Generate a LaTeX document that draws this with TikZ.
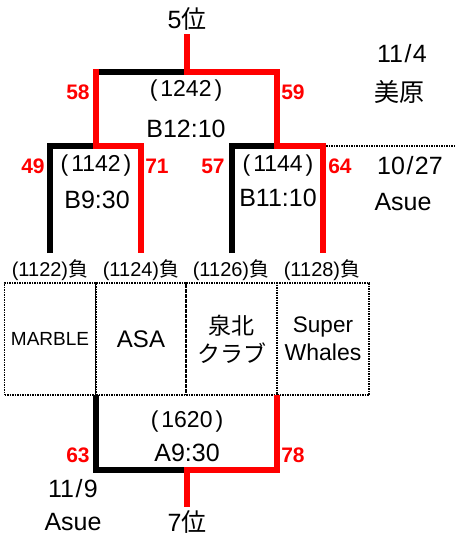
\documentclass[tikz,border=0pt]{standalone}
\usepackage{fontspec}
\setmainfont{Liberation Sans}
\newfontfamily\jp{Noto Sans CJK JP}
\newcommand{\pnum}[1]{(\kern3pt#1\kern3pt)}
\newcommand{\sls}{\kern1.5pt/\kern1.5pt}
\begin{document}
\begin{tikzpicture}[x=1pt,y=-1pt,
  wl/.style={line width=6.5pt, line join=miter, line cap=butt},
  rd/.style={wl, draw=red},
  bk/.style={wl, draw=black},
  sc/.style={text=red, font=\bfseries\fontsize{21}{23}\selectfont, inner sep=0pt},
  tx/.style={font=\fontsize{25}{28}\selectfont, inner sep=0pt},
  mt/.style={font=\fontsize{23}{26}\selectfont, inner sep=0pt},
  lose/.style={font=\fontsize{20}{22}\selectfont, inner sep=0pt},
  team/.style={draw, line width=1.8pt, dash pattern=on 1.5pt off 1pt, minimum width=91pt, minimum height=112pt, inner sep=0pt, align=center, font=\fontsize{23}{28}\selectfont},
  dot/.style={line width=1.8pt, dash pattern=on 1.5pt off 1pt}
]
\useasboundingbox (0,0) rectangle (455,539);
% team boxes
\node[team] (t1) at (50,339) {\fontsize{19}{22}\selectfont MARBLE};
\node[team, minimum width=90pt] (t2) at (141,339) {\fontsize{24}{28}\selectfont ASA};
\node[team, minimum width=91pt] (t3) at (231.5,339) {\jp 泉北\\\jp クラブ};
\node[team, minimum width=92pt] (t4) at (323,339) {\fontsize{22.5}{28}\selectfont Super\\Whales};
% loser labels
\node[lose] (l1) at (50,270) {(1122)\jp 負};
\node[lose] (l2) at (141,270) {(1124)\jp 負};
\node[lose] (l3) at (231,270) {(1126)\jp 負};
\node[lose] (l4) at (322,270) {(1128)\jp 負};
% bracket coordinates
\coordinate (top) at (187,34);
\coordinate (tj) at (187,72);
\coordinate (tl) at (96,72);
\coordinate (tl0) at (96,68.75);
\coordinate (tr) at (277,72);
\coordinate (ljl) at (50,146);
\coordinate (ljm) at (96,146);
\coordinate (ljr) at (141,146);
\coordinate (rjl) at (232,146);
\coordinate (rjm) at (277,146);
\coordinate (rjr) at (323,146);
\coordinate (e1) at (50,253);
\coordinate (e2) at (141,253);
\coordinate (e3) at (232,253);
\coordinate (e4) at (323,253);
\coordinate (dotend) at (455,146);
\coordinate (rjr2) at (326.25,146);
\coordinate (b2) at (96,395);
\coordinate (b4) at (277,395);
\coordinate (bl) at (96,470);
\coordinate (bj) at (187,470);
\coordinate (br) at (277,470);
\coordinate (bot) at (187,507);
% black lines
\draw[bk] (tl) -- (tj);
\draw[bk] (e1) -- (ljl) -- (ljm);
\draw[bk] (e3) -- (rjl) -- (rjm);
\draw[bk] (b2) -- (bl) -- (bj);
% red lines
\draw[rd] (tl0) -- (ljm) -- (ljr) -- (e2);
\draw[rd] (top) -- (tj) -- (tr) -- (rjm) -- (rjr) -- (e4);
\draw[rd] (b4) -- (br) -- (bj) -- (bot);
\draw[dot] (rjr2) -- (dotend);
% texts
\node[tx] (p5) at (187,19) {5\jp 位};
\node[tx] (d1) at (402,54) {11\sls4};
\node[tx] (v1) at (399,92) {\jp 美原};
\node[mt] (m1) at (186,91) {\pnum{1242}};
\node[tx] (s1) at (186,129) {B12:10};
\node[sc] (n58) at (78,92) {58};
\node[sc] (n59) at (293,92) {59};
\node[sc] (n49) at (33,166) {49};
\node[sc] (n71) at (157,166) {71};
\node[sc] (n57) at (213,166) {57};
\node[sc] (n64) at (340,166) {64};
\node[mt] (m2) at (96,166) {\pnum{1142}};
\node[mt] (m3) at (278,166) {\pnum{1144}};
\node[tx] (s2) at (97,200) {B9:30};
\node[tx] (s3) at (278,198) {B11:10};
\node[tx] (d2) at (410,166) {10\sls27};
\node[tx] (v2) at (403,202) {Asue};
\node[mt] (m4) at (187,422) {\pnum{1620}};
\node[tx] (s4) at (187,453) {A9:30};
\node[sc] (n63) at (78,455) {63};
\node[sc] (n78) at (293,455) {78};
\node[tx] (d3) at (73,489) {11\sls9};
\node[tx] (v3) at (73,522) {Asue};
\node[tx] (p7) at (187,522) {7\jp 位};
\end{tikzpicture}
\end{document}
